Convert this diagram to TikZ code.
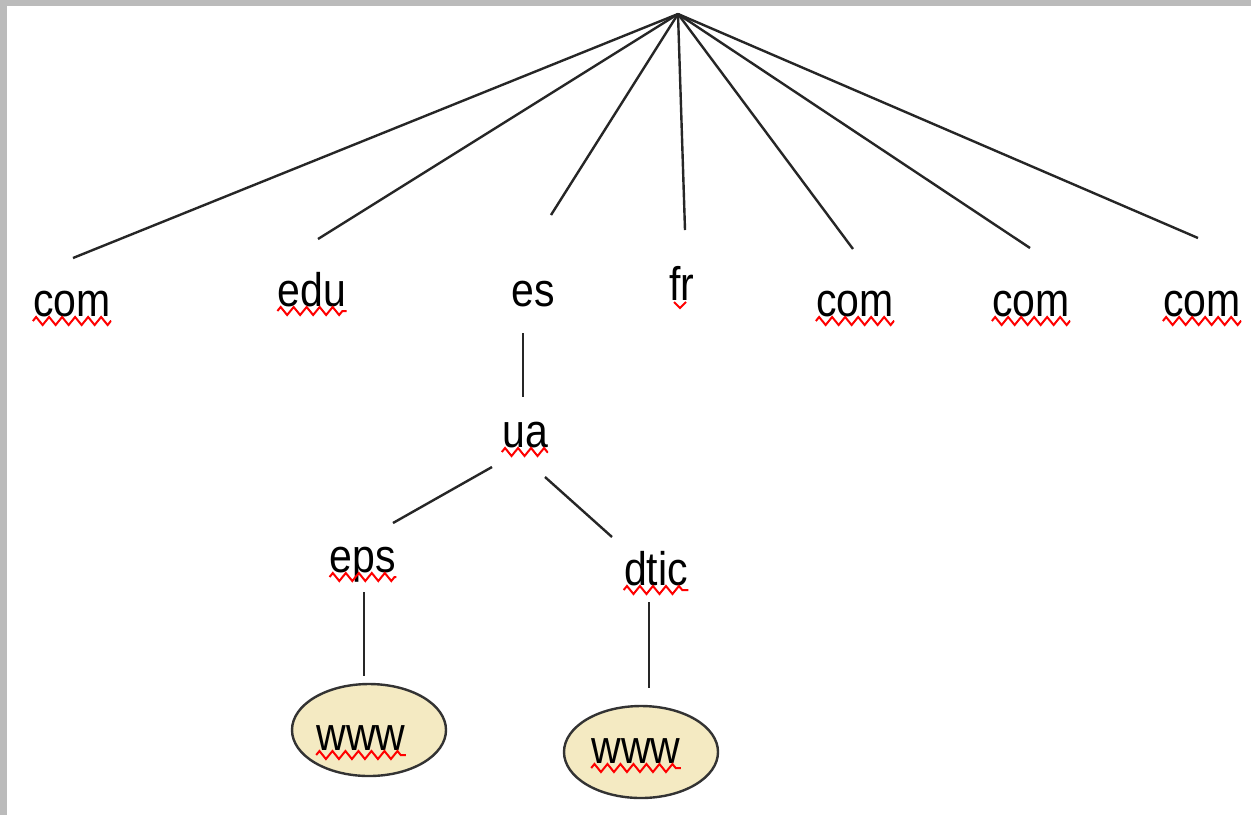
\documentclass[tikz,border=0pt]{standalone}
\usepackage{fontspec}
\setmainfont{Liberation Sans}
\usetikzlibrary{shapes.geometric,decorations.pathmorphing}
\definecolor{leafc}{HTML}{F4EAC2}
\definecolor{frame}{HTML}{BBBBBB}
\newcommand{\stretchtxt}[1]{\scalebox{1}[1.15]{#1}}
\begin{document}
\begin{tikzpicture}[x=0.5pt,y=-0.5pt,
  edge/.style={line width=1.2pt, draw=black!85},
  lbl/.style={inner sep=0pt, anchor=base, font=\fontsize{20.5pt}{24pt}\selectfont},
  squig/.style={draw=red, line width=1pt, decorate, decoration={zigzag,segment length=6.5pt,amplitude=2pt}},
  leaf/.style={ellipse, draw=black!80, line width=1.2pt, fill=leafc, minimum width=77pt, minimum height=46pt, inner sep=0pt}]
\useasboundingbox (0,0) rectangle (1251,815);
\fill[frame] (0,0) rectangle (1251,815);
\fill[white] (7,6) rectangle (1251,815);

% root and top-level labels
\coordinate (root) at (678,14);
\node[lbl] (com1) at (72,316) {\stretchtxt{com}};
\node[lbl] (edu) at (312,306) {\stretchtxt{edu}};
\node[lbl] (es) at (533,306) {\stretchtxt{es}};
\node[lbl] (fr) at (682,300) {\stretchtxt{fr}};
\node[lbl] (com2) at (855,316) {\stretchtxt{com}};
\node[lbl] (com3) at (1031,316) {\stretchtxt{com}};
\node[lbl] (com4) at (1202,316) {\stretchtxt{com}};

\coordinate (com1-top) at (73,258);
\coordinate (edu-top) at (318,239);
\coordinate (es-top) at (551,215);
\coordinate (fr-top) at (685,230);
\coordinate (com2-top) at (853,249);
\coordinate (com3-top) at (1030,248);
\coordinate (com4-top) at (1198,238);

\foreach \n in {com1,edu,es,fr,com2,com3,com4}
  \draw[edge] (root) -- (\n-top);

% second level
\node[lbl] (ua) at (525,447) {\stretchtxt{ua}};
\coordinate (es-bot) at (523,333);
\coordinate (ua-top) at (523,397);
\draw[edge] (es-bot) -- (ua-top);

\node[lbl] (eps) at (363,572) {\stretchtxt{eps}};
\node[lbl] (dtic) at (656,585) {\stretchtxt{dtic}};
\coordinate (ua-left) at (492,467);
\coordinate (eps-top) at (393,523);
\coordinate (ua-right) at (545,477);
\coordinate (dtic-top) at (612,537);
\draw[edge] (ua-left) -- (eps-top);
\draw[edge] (ua-right) -- (dtic-top);

% leaves
\node[leaf] (w1) at (369,730) {};
\node[leaf] (w2) at (641,752) {};
\node[lbl] (w1t) at (361,750) {\stretchtxt{www}};
\node[lbl] (w2t) at (636,763) {\stretchtxt{www}};
\coordinate (eps-bot) at (364,592);
\coordinate (w1-top) at (364,676);
\coordinate (dtic-bot) at (649,602);
\coordinate (w2-top) at (649,688);
\draw[edge] (eps-bot) -- (w1-top);
\draw[edge] (dtic-bot) -- (w2-top);

% spell-check squiggles
\foreach \n in {com1,edu,com2,com3,com4,ua,eps,dtic,w1t,w2t}
  \draw[squig] ([yshift=-2.5pt]\n.base west) -- ([yshift=-2.5pt]\n.base east);
\draw[draw=red, line width=1pt] ([shift={(-4pt,-1pt)}]fr.base) -- ++(3pt,-3pt) -- ++(3pt,3pt);
\end{tikzpicture}
\end{document}
